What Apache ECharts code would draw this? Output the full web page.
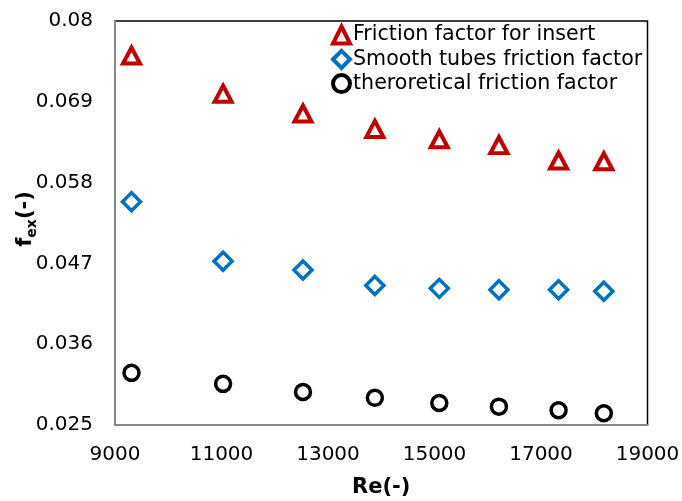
<!DOCTYPE html>
<html>
<head>
<meta charset="utf-8">
<script src="https://cdn.jsdelivr.net/npm/echarts@6/dist/echarts.min.js"></script>
<style>html,body{margin:0;padding:0;background:#fff;}#c{width:682px;height:501px;}</style>
</head>
<body>
<div id="c"></div>
<script>
var reValues = [9310, 11030, 12530, 13880, 15090, 16210, 17330, 18180];
var insertF = [0.0753, 0.0701, 0.0674, 0.0653, 0.0639, 0.0631, 0.0610, 0.0609];
var smoothF = [0.0554, 0.0473, 0.0461, 0.0440, 0.0436, 0.0434, 0.0434, 0.0432];
var theoryF = [0.0321, 0.0306, 0.0295, 0.0287, 0.0280, 0.0275, 0.0270, 0.0266];
var seriesNames = ['Friction factor for insert', 'Smooth tubes friction factor', 'theroretical friction factor'];
var seriesColors = ['#C00000', '#0070C0', '#000000'];

function pairs(xs, ys) { return xs.map(function (x, i) { return [x, ys[i]]; }); }

var FONT = 'DejaVu Sans';
var chart = echarts.init(document.getElementById('c'), null, { renderer: 'canvas' });
chart.setOption({
  animation: false,
  backgroundColor: '#fff',
  grid: { left: 115, right: 34.5, top: 21, bottom: 76, show: true, borderColor: '#000', borderWidth: 1.5, backgroundColor: 'transparent', outerBoundsMode: 'none', containLabel: false },
  legend: {
    orient: 'vertical', left: 331, top: 24.5, padding: 0, itemGap: 3.3,
    itemWidth: 17, itemHeight: 17,
    textStyle: { fontFamily: FONT, fontSize: 20.6, color: '#000', lineHeight: 20, padding: [0, 0, 0, -2] },
    data: seriesNames.map(function (n, i) {
      return { name: n, itemStyle: { color: '#fff', borderColor: seriesColors[i], borderWidth: 4, opacity: 1 } };
    })
  },
  xAxis: {
    type: 'value', min: 9000, max: 19000, interval: 2000,
    name: 'Re(-)', nameLocation: 'middle', nameGap: 52, nameMoveOverlap: false,
    nameTextStyle: { fontFamily: FONT, fontSize: 21, fontWeight: 'bold', color: '#000' },
    axisLine: { show: true, lineStyle: { color: '#868686', width: 2 } },
    axisTick: { show: false },
    splitLine: { show: false },
    axisLabel: { fontFamily: FONT, fontSize: 20, color: '#000', margin: 20, formatter: function (v) { return String(v); } }
  },
  yAxis: {
    type: 'value', min: 0.025, max: 0.08, interval: 0.011,
    name: '{a|f}{b|ex}{a|(-)}', nameLocation: 'middle', nameGap: 78, nameRotate: 90, nameMoveOverlap: false,
    nameTextStyle: {
      fontFamily: FONT, color: '#000', padding: [0, 0, 0, 8],
      rich: {
        a: { fontFamily: FONT, fontSize: 21, fontWeight: 'bold', color: '#000', verticalAlign: 'top', lineHeight: 22 },
        b: { fontFamily: FONT, fontSize: 14, fontWeight: 'bold', color: '#000', verticalAlign: 'top', lineHeight: 15, padding: [10, 0, 0, 0] }
      }
    },
    axisLine: { show: true, lineStyle: { color: '#868686', width: 2 } },
    axisTick: { show: false },
    splitLine: { show: false },
    axisLabel: {
      fontFamily: FONT, fontSize: 20, color: '#000', margin: 22,
      formatter: function (v) { return String(parseFloat(v.toFixed(3))); }
    }
  },
  series: [
    {
      name: seriesNames[0], type: 'scatter', data: pairs(reValues, insertF),
      symbol: 'triangle', symbolSize: [17, 16],
      itemStyle: { color: '#fff', borderColor: seriesColors[0], borderWidth: 4, opacity: 1 }
    },
    {
      name: seriesNames[1], type: 'scatter', data: pairs(reValues, smoothF),
      symbol: 'diamond', symbolSize: 18,
      itemStyle: { color: '#fff', borderColor: seriesColors[1], borderWidth: 3.5, opacity: 1 }
    },
    {
      name: seriesNames[2], type: 'scatter', data: pairs(reValues, theoryF),
      symbol: 'circle', symbolSize: 15,
      itemStyle: { color: '#fff', borderColor: seriesColors[2], borderWidth: 3.5, opacity: 1 }
    }
  ]
});
</script>
</body>
</html>
